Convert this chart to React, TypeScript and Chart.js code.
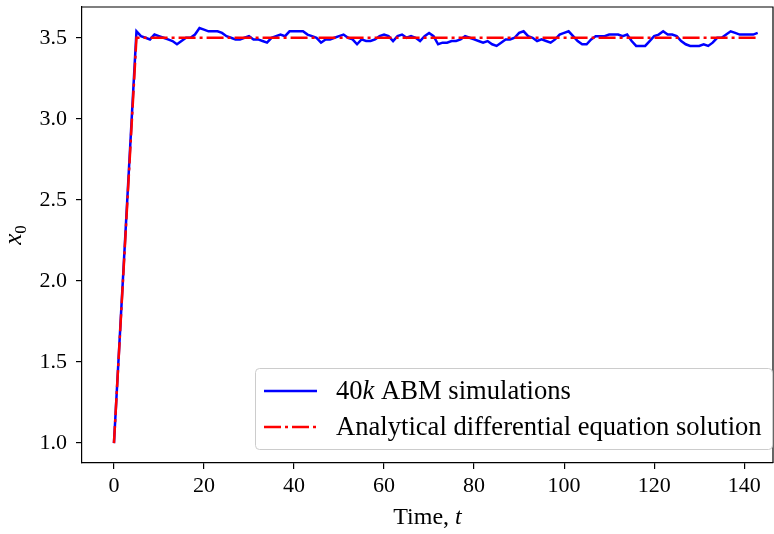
import React, { useEffect, useRef } from "react";
import { Chart, registerables } from "chart.js";

Chart.register(...registerables);

const FONT = "'Liberation Serif', 'Times New Roman', serif";

// ABM simulation (blue)
const abmTimes: number[] = [0, ...Array.from({ length: 139 }, (_, i) => i + 5)];
const abmValues: number[] = [
  1.0,
  3.54, 3.51, 3.50, 3.49, 3.52, 3.51, 3.50, 3.49, 3.48, 3.46,
  3.48, 3.50, 3.50, 3.52, 3.56, 3.55, 3.54, 3.54, 3.54, 3.53,
  3.51, 3.50, 3.49, 3.49, 3.50, 3.51, 3.49, 3.49, 3.48, 3.47,
  3.50, 3.51, 3.52, 3.51, 3.54, 3.54, 3.54, 3.54, 3.52, 3.51,
  3.50, 3.47, 3.49, 3.49, 3.50, 3.51, 3.52, 3.50, 3.49, 3.46,
  3.49, 3.48, 3.48, 3.49, 3.51, 3.52, 3.51, 3.48, 3.51, 3.52,
  3.50, 3.51, 3.50, 3.48, 3.51, 3.53, 3.51, 3.46, 3.47, 3.47,
  3.48, 3.48, 3.49, 3.51, 3.50, 3.49, 3.48, 3.47, 3.48, 3.46,
  3.45, 3.47, 3.49, 3.49, 3.50, 3.53, 3.54, 3.51, 3.50, 3.48,
  3.49, 3.48, 3.47, 3.49, 3.52, 3.53, 3.54, 3.51, 3.48, 3.46,
  3.46, 3.49, 3.51, 3.51, 3.51, 3.52, 3.52, 3.52, 3.51, 3.52,
  3.48, 3.45, 3.45, 3.45, 3.48, 3.51, 3.52, 3.54, 3.52, 3.52,
  3.51, 3.48, 3.46, 3.45, 3.45, 3.45, 3.46, 3.45, 3.47, 3.50,
  3.50, 3.52, 3.54, 3.53, 3.52, 3.52, 3.52, 3.52, 3.53,
];

// Analytical solution (red)
const odeTimes: number[] = [0, 5, 143];
const odeValues: number[] = [1.0, 3.5, 3.5];

const xTickValues: number[] = [0, 20, 40, 60, 80, 100, 120, 140];
const yTickValues: number[] = [1.0, 1.5, 2.0, 2.5, 3.0, 3.5];

const xLimits = [-7.1, 146.4];
const yLimits = [0.877, 3.69];

const BLUE = "#0000ff";
const RED = "#ff0000";
const RED_DASH = [17, 4, 3, 4];

const decorPlugin = {
  id: "decor",
  afterDatasetsDraw(chart: any) {
    const { ctx, chartArea } = chart;
    const { left, right, top, bottom } = chartArea;
    ctx.save();
    // top & right spines
    ctx.strokeStyle = "#000";
    ctx.lineWidth = 1.2;
    ctx.beginPath();
    ctx.moveTo(left, top);
    ctx.lineTo(right, top);
    ctx.lineTo(right, bottom);
    ctx.stroke();

    // legend
    const bw = 517;
    const bh = 81;
    const bx = right - 1 - bw;
    const by = bottom - 14 - bh;
    ctx.beginPath();
    (ctx as any).roundRect(bx + 0.5, by + 0.5, bw, bh, 4);
    ctx.fillStyle = "rgba(255,255,255,0.8)";
    ctx.fill();
    ctx.strokeStyle = "#cccccc";
    ctx.lineWidth = 1;
    ctx.stroke();

    const lx1 = bx + 9;
    const lx2 = bx + 62;
    const y1 = by + 23;
    const y2 = by + 59;
    ctx.lineWidth = 2.5;
    ctx.strokeStyle = BLUE;
    ctx.beginPath();
    ctx.moveTo(lx1, y1);
    ctx.lineTo(lx2, y1);
    ctx.stroke();
    ctx.strokeStyle = RED;
    ctx.setLineDash(RED_DASH);
    ctx.beginPath();
    ctx.moveTo(lx1, y2);
    ctx.lineTo(lx2, y2);
    ctx.stroke();
    ctx.setLineDash([]);

    const tx = bx + 81;
    const fs = 26.6;
    ctx.fillStyle = "#000";
    ctx.textBaseline = "middle";
    ctx.textAlign = "left";
    let x = tx;
    ctx.font = `${fs}px ${FONT}`;
    ctx.fillText("40", x, y1 + 1);
    x += ctx.measureText("40").width;
    ctx.font = `italic ${fs}px ${FONT}`;
    ctx.fillText("k", x, y1 + 1);
    x += ctx.measureText("k").width;
    ctx.font = `${fs}px ${FONT}`;
    ctx.fillText(" ABM simulations", x, y1 + 1);
    ctx.fillText("Analytical differential equation solution", tx, y2 + 1);

    // x axis title
    const cx = (left + right) / 2;
    const a = "Time, ";
    const b = "t";
    ctx.font = `24px ${FONT}`;
    const wa = ctx.measureText(a).width;
    ctx.font = `italic 24px ${FONT}`;
    const wb = ctx.measureText(b).width;
    const sx = cx - (wa + wb) / 2;
    ctx.font = `24px ${FONT}`;
    ctx.fillText(a, sx, 518);
    ctx.font = `italic 24px ${FONT}`;
    ctx.fillText(b, sx + wa, 518);

    // y axis title x_0
    ctx.save();
    ctx.translate(16, (top + bottom) / 2);
    ctx.rotate(-Math.PI / 2);
    ctx.font = `italic 25px ${FONT}`;
    const wx = ctx.measureText("x").width;
    ctx.font = `17px ${FONT}`;
    const w0 = ctx.measureText("0").width;
    const ox = -(wx + w0) / 2;
    ctx.textBaseline = "alphabetic";
    ctx.font = `italic 25px ${FONT}`;
    ctx.fillText("x", ox, 5);
    ctx.font = `17px ${FONT}`;
    ctx.fillText("0", ox + wx, 10);
    ctx.restore();

    ctx.restore();
  },
};

export default function App() {
  const ref = useRef<HTMLCanvasElement | null>(null);

  useEffect(() => {
    if (!ref.current) return;
    const chart = new Chart(ref.current, {
      type: "line",
      data: {
        datasets: [
          {
            label: "40k ABM simulations",
            data: abmTimes.map((t, i) => ({ x: t, y: abmValues[i] })),
            borderColor: BLUE,
            backgroundColor: BLUE,
            borderWidth: 2.5,
            pointRadius: 0,
            tension: 0,
            fill: false,
            order: 2,
          },
          {
            label: "Analytical differential equation solution",
            data: odeTimes.map((t, i) => ({ x: t, y: odeValues[i] })),
            borderColor: RED,
            backgroundColor: RED,
            borderWidth: 2.5,
            borderDash: RED_DASH,
            pointRadius: 0,
            tension: 0,
            fill: false,
            order: 1,
          },
        ],
      },
      options: {
        responsive: false,
        animation: false,
        events: [],
        layout: { padding: { top: 7, right: 1, left: 0, bottom: 0 } },
        plugins: {
          legend: { display: false },
          tooltip: { enabled: false },
          title: { display: false },
        },
        scales: {
          x: {
            type: "linear",
            min: xLimits[0],
            max: xLimits[1],
            afterBuildTicks: (s: any) => {
              s.ticks = xTickValues.map((v) => ({ value: v }));
            },
            afterFit: (s: any) => {
              s.height = 71;
              s.paddingLeft = 0;
              s.paddingRight = 0;
            },
            ticks: {
              color: "#000",
              font: { family: FONT, size: 22 },
              padding: 4,
              maxRotation: 0,
              autoSkip: false,
              callback: (v: any) => String(v),
            },
            grid: {
              drawOnChartArea: false,
              drawTicks: true,
              tickLength: 6,
              color: "#000",
              lineWidth: 1.2,
            },
            border: { display: true, color: "#000", width: 1.2 },
          },
          y: {
            type: "linear",
            min: yLimits[0],
            max: yLimits[1],
            afterBuildTicks: (s: any) => {
              s.ticks = yTickValues.map((v) => ({ value: v }));
            },
            afterFit: (s: any) => {
              s.width = 82;
              s.paddingTop = 0;
              s.paddingBottom = 0;
            },
            ticks: {
              color: "#000",
              font: { family: FONT, size: 22 },
              padding: 9,
              autoSkip: false,
              callback: (v: any) => Number(v).toFixed(1),
            },
            grid: {
              drawOnChartArea: false,
              drawTicks: true,
              tickLength: 6,
              color: "#000",
              lineWidth: 1.2,
            },
            border: { display: true, color: "#000", width: 1.2 },
          },
        },
      },
      plugins: [decorPlugin],
    });
    return () => chart.destroy();
  }, []);

  return (
    <div style={{ position: "fixed", left: 0, top: 0, width: 774, height: 534, background: "#fff" }}>
      <canvas ref={ref} width={774} height={534} style={{ display: "block" }} />
    </div>
  );
}
